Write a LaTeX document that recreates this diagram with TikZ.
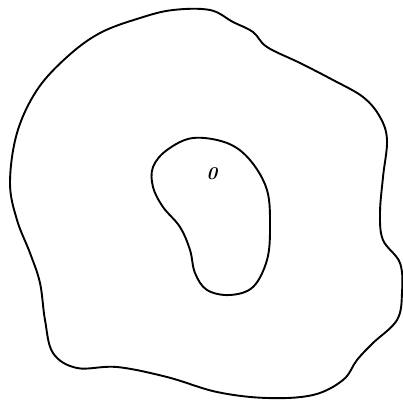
\documentclass[tikz,border=0pt]{standalone}
\begin{document}
\begin{tikzpicture}[x=1pt,y=-1pt,
  outline/.style={draw=black,line width=1.9pt,line join=round},
  mark0/.style={font=\fontsize{18}{18}\selectfont\bfseries\itshape,inner sep=0pt}]
\useasboundingbox (0,0) rectangle (403,404);
% outer boundary
\draw[outline] plot[smooth cycle,tension=0.6] coordinates {
 (173,10) (210,10) (233,22) (253,32) (267,47) (300,63) (333,80) (363,97)
 (380,117) (387,140) (383,177) (380,213) (383,240) (400,263) (402,293)
 (397,320) (373,343) (357,360) (343,380) (313,395) (267,398) (217,392)
 (167,377) (117,367) (77,368) (53,353) (45,320) (40,283) (30,253)
 (17,220) (10,183) (17,133) (37,90) (67,57) (100,33) (140,18)};
% inner region
\draw[outline] plot[smooth cycle,tension=0.6] coordinates {
 (153,167) (167,150) (193,138) (227,143) (250,160) (267,190) (270,227)
 (267,260) (253,287) (230,295) (207,290) (195,273) (190,250) (180,227)
 (163,207) (153,187)};
\node[mark0] (o) at (212,174) {0};
\end{tikzpicture}
\end{document}
